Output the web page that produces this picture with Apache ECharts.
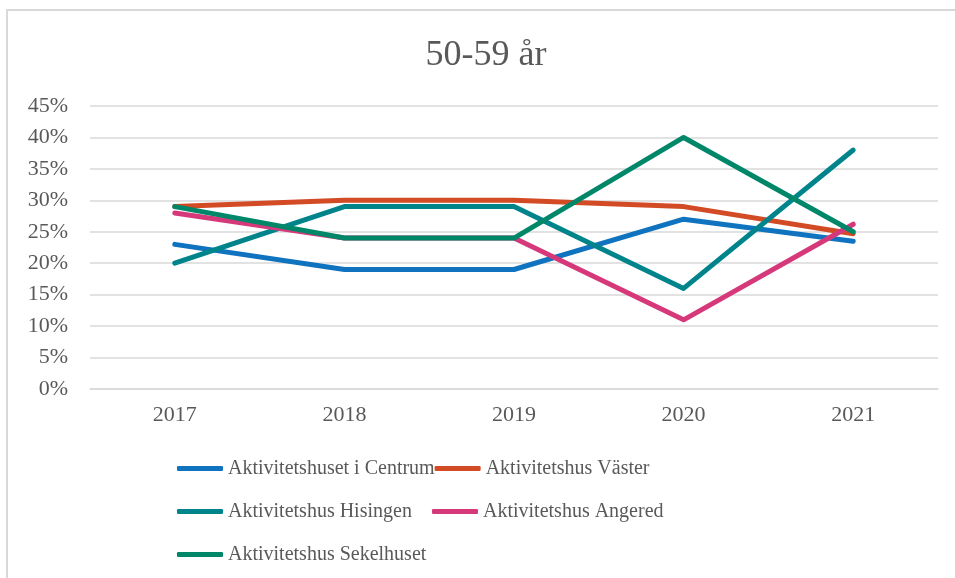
<!DOCTYPE html>
<html>
<head>
<meta charset="utf-8">
<script src="https://cdn.jsdelivr.net/npm/echarts@6/dist/echarts.min.js"></script>
<style>
html,body{margin:0;padding:0;background:#fff;}
#chart{width:955px;height:578px;}
</style>
</head>
<body>
<div id="chart"></div>
<script>
var years = ['2017', '2018', '2019', '2020', '2021'];
var centrum = [23, 19, 19, 27, 23.5];
var vaster = [29, 30, 30, 29, 24.7];
var hisingen = [20, 29, 29, 16, 38];
var angered = [28, 24, 24, 11, 26.2];
var sekelhuset = [29, 24, 24, 40, 25];
var names = ['Aktivitetshuset i Centrum', 'Aktivitetshus Väster', 'Aktivitetshus Hisingen', 'Aktivitetshus Angered', 'Aktivitetshus Sekelhuset'];
var colors = ['#0F73BF', '#D24B25', '#00848C', '#D6397A', '#00876A'];

var font = '"Liberation Serif", "Times New Roman", serif';
var txt = '#595959';

function line(name, data, color) {
    return {
        name: name,
        type: 'line',
        data: data,
        showSymbol: false,
        symbol: 'none',
        lineStyle: { width: 5, color: color, cap: 'round', join: 'round' },
        itemStyle: { color: color }
    };
}

var chart = echarts.init(document.getElementById('chart'));
chart.setOption({
    animation: false,
    title: {
        text: '50-59 år',
        left: 481,
        top: 33,
        textAlign: 'center',
        textStyle: { fontFamily: font, fontSize: 36, fontWeight: 'normal', color: txt }
    },
    graphic: [{
        type: 'rect',
        shape: { x: 7, y: 10, width: 1000, height: 650 },
        style: { fill: 'none', stroke: '#d9d9d9', lineWidth: 2 },
        silent: true
    }],
    grid: { left: 90, right: 17, top: 106, bottom: 189 },
    legend: {
        left: 177,
        top: 447,
        padding: 0,
        width: 540,
        itemGap: 0,
        itemWidth: 46,
        itemHeight: 5,
        icon: 'roundRect',
        data: names,
        textStyle: { fontFamily: font, fontSize: 20, color: txt, width: 204, lineHeight: 43, overflow: 'none' }
    },
    xAxis: {
        type: 'category',
        data: years,
        boundaryGap: true,
        axisLine: { lineStyle: { color: '#d9d9d9', width: 1.5 } },
        axisTick: { show: false },
        axisLabel: { fontFamily: font, fontSize: 22, color: txt, margin: 15 }
    },
    yAxis: {
        type: 'value',
        min: 0,
        max: 45,
        interval: 5,
        axisLine: { show: false },
        axisTick: { show: false },
        splitLine: { lineStyle: { color: '#d9d9d9', width: 1.5 } },
        axisLabel: { fontFamily: font, fontSize: 22, color: txt, margin: 22, formatter: '{value}%' }
    },
    series: [
        line(names[0], centrum, colors[0]),
        line(names[1], vaster, colors[1]),
        line(names[2], hisingen, colors[2]),
        line(names[3], angered, colors[3]),
        line(names[4], sekelhuset, colors[4])
    ]
});
</script>
</body>
</html>
